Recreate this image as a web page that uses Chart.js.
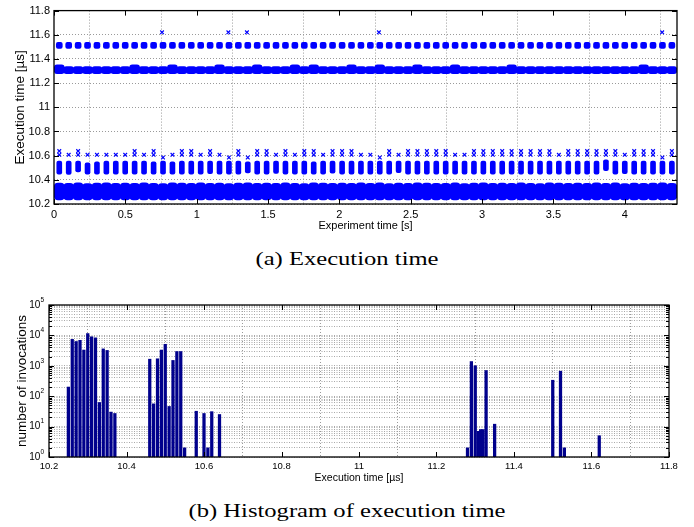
<!DOCTYPE html>
<html>
<head>
<meta charset="utf-8">
<script src="https://cdn.jsdelivr.net/npm/chart.js@4.4.0/dist/chart.umd.min.js"></script>
<style>
  html, body { margin: 0; padding: 0; background: #fff; }
  #page { position: relative; width: 694px; height: 527px; overflow: hidden; }
  #page canvas { position: absolute; left: 0; }
  .caption {
    position: absolute; left: 0; width: 694px; text-align: center;
    font-family: 'Liberation Serif', 'Times New Roman', serif; font-size: 18.5px; color: #000;
    line-height: 22px; transform: scaleX(1.33); transform-origin: 50% 50%;
  }
</style>
</head>
<body>
<div id="page">
  <canvas id="timeChart" width="694" height="240" style="top:0;width:694px;height:240px"></canvas>
  <div class="caption" style="top:248px">(a) Execution time</div>
  <canvas id="histChart" width="694" height="205" style="top:288px;width:694px;height:205px"></canvas>
  <div class="caption" style="top:500px">(b) Histogram of execution time</div>
</div>
<script>
// --- execution time samples, grouped by burst (one burst every ~66 ms) ---
const burstTimes = [0.037, 0.103, 0.169, 0.235, 0.301, 0.367, 0.433, 0.499, 0.565, 0.631,
  0.698, 0.764, 0.830, 0.896, 0.962, 1.028, 1.094, 1.160, 1.226, 1.292,
  1.358, 1.424, 1.490, 1.556, 1.622, 1.688, 1.754, 1.820, 1.886, 1.952,
  2.019, 2.085, 2.151, 2.217, 2.283, 2.349, 2.415, 2.481, 2.547, 2.613,
  2.679, 2.745, 2.811, 2.877, 2.943, 3.009, 3.075, 3.141, 3.207, 3.273,
  3.340, 3.406, 3.472, 3.538, 3.604, 3.670, 3.736, 3.802, 3.868, 3.934,
  4.000, 4.066, 4.132, 4.198, 4.264, 4.330];

// 10.25-10.37 us cluster
const lowBandLo = 10.234;
const lowBandHi = [10.374, 10.371, 10.376, 10.369, 10.373, 10.375, 10.370, 10.374, 10.372, 10.376,
  10.371, 10.369, 10.375, 10.373, 10.370, 10.376, 10.372, 10.374, 10.369, 10.373,
  10.376, 10.371, 10.374, 10.370, 10.375, 10.372, 10.369, 10.376, 10.373, 10.371,
  10.374, 10.370, 10.376, 10.372, 10.375, 10.369, 10.373, 10.371, 10.376, 10.374,
  10.370, 10.372, 10.375, 10.369, 10.373, 10.376, 10.371, 10.374, 10.370, 10.375,
  10.372, 10.369, 10.376, 10.373, 10.371, 10.374, 10.370, 10.375, 10.372, 10.376,
  10.369, 10.373, 10.371, 10.374, 10.376, 10.372];

// 10.46-10.55 us cluster
const midBandLo = [10.447, 10.445, 10.466, 10.447, 10.447, 10.447, 10.447, 10.447, 10.447, 10.447,
  10.447, 10.447, 10.447, 10.447, 10.447, 10.447, 10.450, 10.447, 10.447, 10.447,
  10.458, 10.447, 10.447, 10.452, 10.447, 10.447, 10.447, 10.447, 10.447, 10.455,
  10.447, 10.447, 10.447, 10.447, 10.447, 10.447, 10.460, 10.447, 10.447, 10.447,
  10.447, 10.447, 10.447, 10.447, 10.447, 10.447, 10.447, 10.447, 10.447, 10.447,
  10.447, 10.447, 10.447, 10.447, 10.447, 10.447, 10.447, 10.447, 10.475, 10.447,
  10.450, 10.447, 10.447, 10.447, 10.447, 10.447];
const midBandHi = [10.556, 10.556, 10.556, 10.540, 10.548, 10.556, 10.556, 10.556, 10.556, 10.556,
  10.548, 10.556, 10.548, 10.556, 10.556, 10.556, 10.556, 10.556, 10.556, 10.556,
  10.549, 10.556, 10.556, 10.556, 10.556, 10.556, 10.556, 10.548, 10.556, 10.556,
  10.556, 10.556, 10.556, 10.556, 10.556, 10.556, 10.556, 10.556, 10.556, 10.556,
  10.556, 10.556, 10.556, 10.556, 10.556, 10.556, 10.556, 10.556, 10.556, 10.556,
  10.556, 10.556, 10.556, 10.556, 10.556, 10.556, 10.556, 10.556, 10.565, 10.556,
  10.556, 10.556, 10.556, 10.556, 10.556, 10.556];

// single samples just above the 10.5 us cluster
const markUpper = [10.638, null, 10.638, null, null, null, null, null, 10.638, null,
  10.638, null, null, 10.638, 10.638, null, 10.638, null, null, 10.638,
  null, 10.638, 10.638, null, 10.638, null, 10.638, 10.638, null, 10.638,
  10.638, 10.638, null, null, null, 10.638, null, 10.638, 10.638, 10.638,
  10.638, 10.638, null, null, 10.638, 10.638, 10.638, 10.638, 10.638, 10.638,
  10.638, 10.638, 10.638, null, 10.638, 10.638, 10.638, 10.638, 10.638, 10.638,
  null, 10.638, 10.638, 10.638, null, 10.638];
const markLower = [10.607, 10.607, 10.607, 10.607, 10.607, 10.607, 10.607, 10.607, 10.607, 10.607,
  10.607, 10.585, 10.607, 10.607, 10.607, 10.607, 10.607, 10.607, 10.585, 10.607,
  10.585, 10.607, 10.607, 10.607, 10.607, 10.607, 10.607, 10.607, 10.607, 10.607,
  10.607, 10.607, 10.607, 10.607, 10.585, 10.607, 10.607, 10.607, 10.607, 10.607,
  10.607, 10.607, 10.607, 10.607, 10.607, 10.607, 10.607, 10.607, 10.607, 10.607,
  10.607, 10.607, 10.607, 10.607, 10.607, 10.607, 10.607, 10.607, 10.607, 10.607,
  10.607, 10.607, 10.607, 10.607, 10.585, 10.607];

// 11.28-11.35 us cluster
const highBandLo = 11.279;
const highBandHi = [11.352, 11.336, 11.336, 11.336, 11.336, 11.336, 11.336, 11.336, 11.352, 11.336,
  11.336, 11.336, 11.352, 11.336, 11.336, 11.336, 11.336, 11.352, 11.336, 11.336,
  11.336, 11.352, 11.336, 11.336, 11.336, 11.352, 11.336, 11.352, 11.336, 11.336,
  11.336, 11.352, 11.336, 11.336, 11.352, 11.336, 11.336, 11.336, 11.352, 11.336,
  11.336, 11.336, 11.352, 11.336, 11.336, 11.336, 11.336, 11.336, 11.352, 11.336,
  11.336, 11.336, 11.336, 11.336, 11.336, 11.336, 11.336, 11.336, 11.336, 11.336,
  11.336, 11.336, 11.352, 11.336, 11.336, 11.336];

// 11.50-11.53 us cluster
const topBand = [11.487, 11.537];

// rare 11.62 us samples
const outlierTimes = [0.757, 1.222, 1.352, 2.277, 4.262];
const outlierValues = [11.62, 11.62, 11.62, 11.62, 11.62];

const timeTicksX = [0, 0.5, 1, 1.5, 2, 2.5, 3, 3.5, 4];
const timeTicksY = [10.2, 10.4, 10.6, 10.8, 11, 11.2, 11.4, 11.6, 11.8];

// --- histogram ---
const histBins = [10.25, 10.26, 10.27, 10.28, 10.29, 10.30, 10.31, 10.32, 10.33, 10.34, 10.35, 10.36, 10.37,
  10.46, 10.47, 10.48, 10.49, 10.50, 10.51, 10.52, 10.53, 10.54, 10.55,
  10.58, 10.60, 10.61, 10.62, 10.64,
  11.28, 11.29, 11.30, 11.308, 11.314, 11.32, 11.328, 11.35,
  11.50, 11.52, 11.53, 11.62];
const histCounts = [200, 7400, 6300, 6900, 3300, 11500, 9000, 8300, 62, 3600, 3200, 30, 27,
  1650, 56, 1700, 3300, 5100, 46, 1500, 2950, 2950, 2,
  32, 27, 2, 31, 25,
  2, 1380, 1000, 7, 8, 8, 700, 12,
  335, 665, 2, 5];

const histTicksX = [10.2, 10.4, 10.6, 10.8, 11, 11.2, 11.4, 11.6, 11.8];
const decades = [1, 10, 100, 1000, 10000];
const decadeSteps = [1, 2, 3, 4, 5, 6, 7, 8, 9];

const FONT = "'Liberation Sans', Arial, Helvetica, sans-serif";
const BLUE = '#0000ff';
const GRID = '#9a9a9a';

Chart.defaults.font.family = FONT;
Chart.defaults.color = '#000';

// boxed axes with inward tick marks
const frame = {
  id: 'frame',
  afterDraw(chart, args, opts) {
    const { ctx, chartArea: a, scales: { x, y } } = chart;
    ctx.save();
    ctx.strokeStyle = '#000';
    ctx.lineWidth = 1;
    ctx.beginPath();
    x.ticks.forEach(t => {
      const px = Math.round(x.getPixelForValue(t.value)) + 0.5;
      ctx.moveTo(px, a.bottom); ctx.lineTo(px, a.bottom - opts.len);
      ctx.moveTo(px, a.top); ctx.lineTo(px, a.top + opts.len);
    });
    y.ticks.forEach(t => {
      const py = Math.round(y.getPixelForValue(t.value)) + 0.5;
      const len = t.major === false ? opts.minorLen : opts.len;
      ctx.moveTo(a.left, py); ctx.lineTo(a.left + len, py);
      ctx.moveTo(a.right, py); ctx.lineTo(a.right - len, py);
    });
    ctx.stroke();
    ctx.lineWidth = opts.boxWidth;
    ctx.strokeRect(a.left, a.top, a.right - a.left, a.bottom - a.top);
    ctx.restore();
  }
};

// "10" with a raised exponent for the log axis
const powerLabels = {
  id: 'powerLabels',
  afterDraw(chart, args, opts) {
    if (!opts.enabled) return;
    const { ctx, chartArea: a, scales: { y } } = chart;
    ctx.save();
    ctx.fillStyle = '#000';
    ctx.textAlign = 'right';
    ctx.textBaseline = 'middle';
    y.ticks.forEach(t => {
      if (!t.major) return;
      const py = y.getPixelForValue(t.value);
      const exp = String(Math.round(Math.log10(t.value)));
      ctx.font = `${opts.expSize}px ${FONT}`;
      const ew = ctx.measureText(exp).width;
      ctx.fillText(exp, a.left - opts.gap, py - opts.raise);
      ctx.font = `${opts.size}px ${FONT}`;
      ctx.fillText('10', a.left - opts.gap - ew, py);
    });
    ctx.restore();
  }
};

const bursts = (lo, hi) => burstTimes.map((t, i) => ({
  x: t,
  y: [Array.isArray(lo) ? lo[i] : lo, Array.isArray(hi) ? hi[i] : hi]
}));
const marks = vals => burstTimes.map((t, i) => ({ x: t, y: vals[i] })).filter(p => p.y !== null);

const burstBar = (data, thickness, radius) => ({
  type: 'bar', data, backgroundColor: BLUE, borderWidth: 0, borderSkipped: false,
  barThickness: thickness, borderRadius: radius, grouped: false
});
const crossMarks = data => ({
  type: 'scatter', data, showLine: false, pointStyle: 'crossRot',
  pointRadius: 2.6, borderColor: BLUE, backgroundColor: BLUE, pointBorderWidth: 1.2
});

new Chart(document.getElementById('timeChart'), {
  type: 'scatter',
  data: {
    datasets: [
      burstBar(bursts(lowBandLo, lowBandHi), 10, 4),
      burstBar(bursts(midBandLo, midBandHi), 5, 2),
      burstBar(bursts(highBandLo, highBandHi), 10, 3),
      burstBar(bursts(topBand[0], topBand[1]), 6, 2),
      crossMarks(marks(markUpper)),
      crossMarks(marks(markLower)),
      crossMarks(outlierTimes.map((t, i) => ({ x: t, y: outlierValues[i] })))
    ]
  },
  options: {
    responsive: false,
    animation: false,
    events: [],
    layout: { padding: { top: 10, right: 17, left: 0, bottom: 0 } },
    plugins: {
      legend: { display: false },
      tooltip: { enabled: false },
      frame: { len: 5, minorLen: 5, boxWidth: 1.3 },
      powerLabels: { enabled: false }
    },
    scales: {
      x: {
        type: 'linear', min: 0, max: 4.366, offset: false,
        afterBuildTicks: s => { s.ticks = timeTicksX.map(v => ({ value: v })); },
        afterFit: s => { s.height = 36; },
        ticks: { autoSkip: false, maxRotation: 0, padding: 4, font: { size: 11 }, callback: v => String(v) },
        grid: { color: GRID, drawTicks: false, lineWidth: 1 },
        border: { display: false, dash: [1, 2] },
        title: { display: true, text: 'Experiment time [s]', font: { size: 11 }, padding: { top: 0, bottom: 7.4 } }
      },
      y: {
        type: 'linear', min: 10.2, max: 11.8,
        afterBuildTicks: s => { s.ticks = timeTicksY.map(v => ({ value: v })); },
        afterFit: s => { s.width = 54; },
        ticks: { autoSkip: false, padding: 4, font: { size: 11 }, callback: v => String(v) },
        grid: { color: GRID, drawTicks: false, lineWidth: 1 },
        border: { display: false, dash: [1, 2] },
        title: { display: true, text: 'Execution time [µs]', font: { size: 13.5 }, padding: { top: 11.9, bottom: 0 } }
      }
    }
  },
  plugins: [frame, powerLabels]
});

const countTicks = [];
decades.forEach(d => decadeSteps.forEach(m => countTicks.push({ value: d * m, major: m === 1 })));
countTicks.push({ value: 100000, major: true });

new Chart(document.getElementById('histChart'), {
  type: 'bar',
  data: {
    datasets: [{
      data: histBins.map((b, i) => ({ x: b, y: histCounts[i] })),
      backgroundColor: '#00008c',
      borderWidth: 0,
      barThickness: 2.6,
      grouped: false
    }]
  },
  options: {
    responsive: false,
    animation: false,
    events: [],
    layout: { padding: { top: 17, right: 25, left: 0, bottom: 0 } },
    plugins: {
      legend: { display: false },
      tooltip: { enabled: false },
      frame: { len: 5, minorLen: 3, boxWidth: 1.3 },
      powerLabels: { enabled: true, size: 10, expSize: 6.5, gap: 5, raise: 5 }
    },
    scales: {
      x: {
        type: 'linear', min: 10.2, max: 11.8, offset: false,
        afterBuildTicks: s => { s.ticks = histTicksX.map(v => ({ value: v })); },
        afterFit: s => { s.height = 36; },
        ticks: { autoSkip: false, maxRotation: 0, padding: 4, font: { size: 9.5 }, callback: v => String(v) },
        grid: { color: GRID, drawTicks: false, lineWidth: 1 },
        border: { display: false, dash: [1, 2] },
        title: { display: true, text: 'Execution time [µs]', font: { size: 10.5 }, padding: { top: 0, bottom: 8.8 } }
      },
      y: {
        type: 'logarithmic', min: 1, max: 100000,
        afterBuildTicks: s => { s.ticks = countTicks.map(t => ({ ...t })); },
        afterFit: s => { s.width = 49; },
        ticks: { autoSkip: false, padding: 4, font: { size: 10 }, callback: () => '' },
        grid: { color: '#a8a8a8', drawTicks: false, lineWidth: 1 },
        border: { display: false, dash: [1, 1.5] },
        title: { display: true, text: 'number of invocations', font: { size: 13.5 }, padding: { top: 13.9, bottom: 0 } }
      }
    }
  },
  plugins: [frame, powerLabels]
});
</script>
</body>
</html>
